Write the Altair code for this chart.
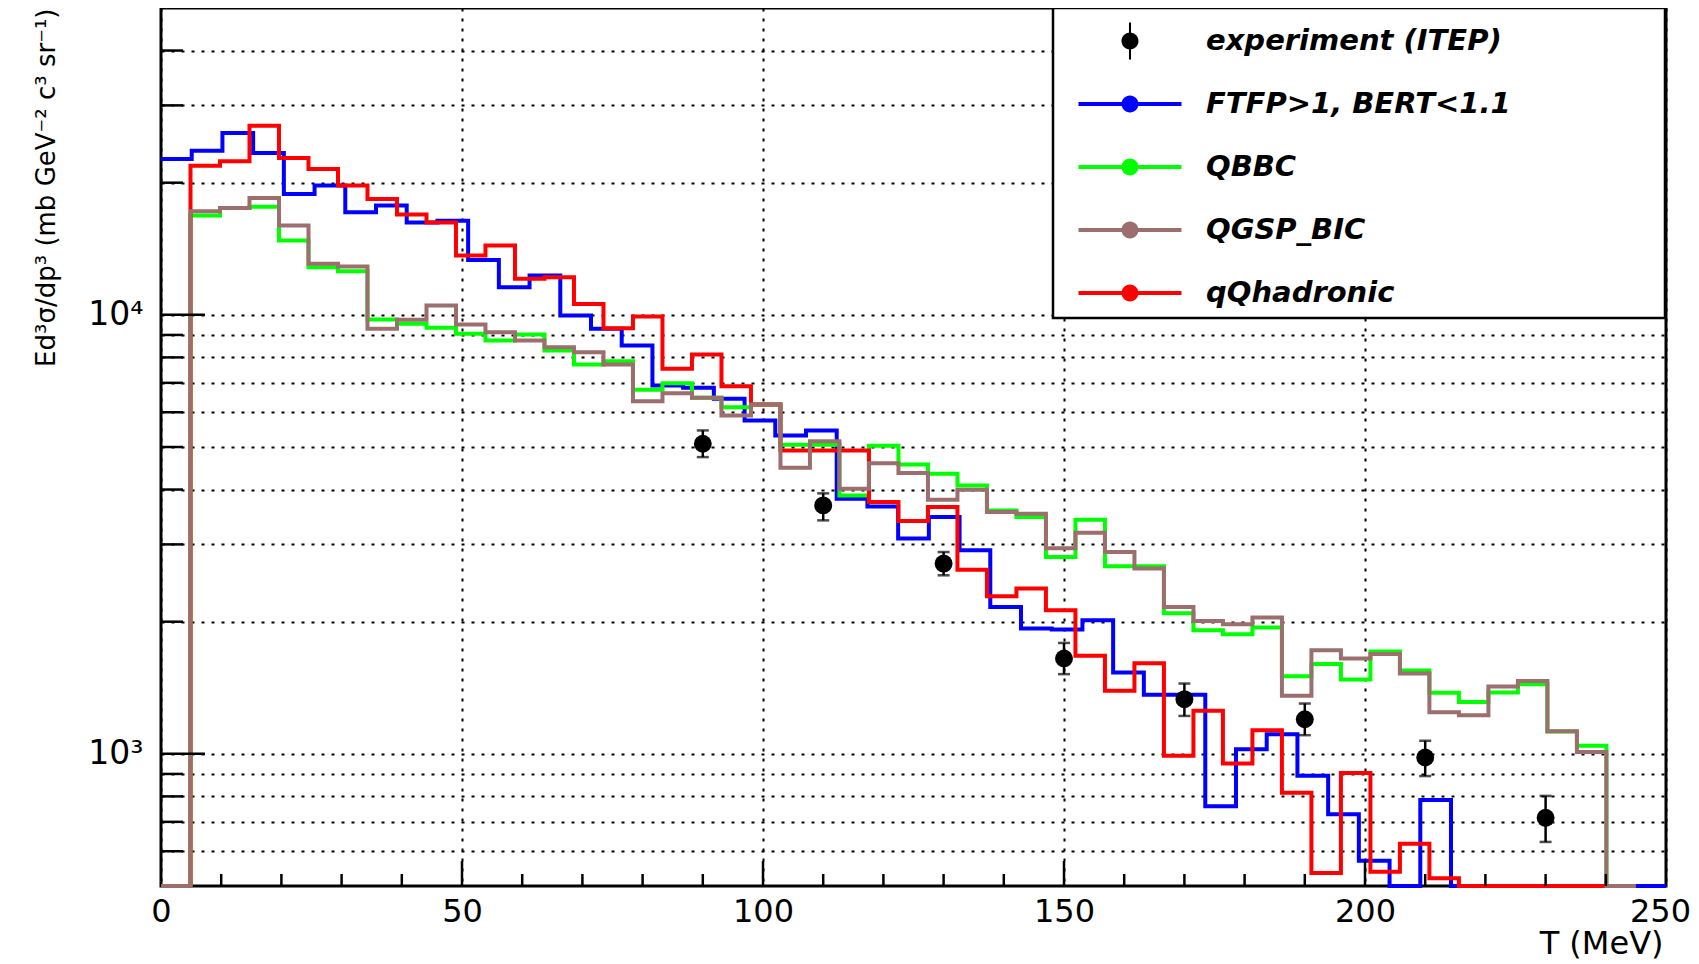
import altair as alt
import pandas as pd

# ---------------- data ----------------
# QBBC, QGSP_BIC, qQhadronic: 50 bins of 4.9 MeV (0 - 245 MeV)
rgb_bin_width = 4.9
# FTFP>1, BERT<1.1: 49 bins (0 - 250 MeV)
ftfp_bin_width = 250 / 49

ftfp = [22650, 23660, 25950, 23380, 18860, 19700, 17120, 17740, 16240, 16390,
        13340, 11560, 12290, 9964, 9292, 8514, 6902, 6822, 6438, 5745,
        5313, 5454, 3813, 3662, 3093, 3462, 2908, 2160, 1929, 1919,
        2015, 1533, 1363, 1363, 760, 1024, 1108, 892, 728, 571,
        0, 785, 0, 0, 0, 0, 0, 0, 0]

qbbc = [0, 16830, 17520, 17640, 14760, 12830, 12570, 9757, 9539, 9341,
        9052, 8740, 9020, 8294, 7708, 7842, 6750, 6989, 6474, 6163,
        6251, 5059, 5059, 3879, 5030, 4564, 4346, 4088, 3585, 3462,
        2808, 3415, 2674, 2674, 2090, 1912, 1873, 1940, 1503, 1603,
        1477, 1710, 1548, 1378, 1313, 1379, 1440, 1125, 1044, 0]

qgsp_bic = [0, 17210, 17520, 18460, 15970, 13070, 12880, 9292, 9741, 10500,
            9504, 9128, 8739, 8439, 8220, 7708, 6359, 6632, 6474, 5898,
            6251, 4485, 5156, 4018, 4590, 4360, 3793, 3997, 3554, 3525,
            2940, 3190, 2882, 2642, 2160, 2007, 1973, 2044, 1357, 1722,
            1649, 1689, 1524, 1244, 1225, 1423, 1466, 1126, 1010, 0]

qqhadronic = [0, 21870, 22370, 26960, 22770, 21490, 19700, 18360, 16920, 16240,
              13650, 14380, 12080, 12180, 10590, 9322, 9911, 7536, 8122, 6878,
              6252, 4909, 4909, 4909, 3746, 3390, 3649, 2628, 2285, 2379,
              2123, 1672, 1393, 1608, 990, 1254, 951, 1132, 815, 535,
              905, 539, 624, 521, 0, 0, 0, 0, 0, 0]

exp_T = [90, 110, 130, 150, 170, 190, 210, 230]
exp_val = [5085, 3681, 2713, 1649, 1332, 1199, 981, 715]
exp_lo = [4742, 3403, 2551, 1519, 1220, 1103, 890, 630]
exp_hi = [5454, 3921, 2882, 1789, 1446, 1302, 1071, 802]

series_names = ["FTFP>1, BERT<1.1", "QBBC", "QGSP_BIC", "qQhadronic"]
legend_names = ["experiment (ITEP)"] + series_names
legend_colors = ["#000000", "#0000ff", "#00ff00", "#9c6e6e", "#ff0000"]

x_ticks_major = [0, 50, 100, 150, 200, 250]
x_ticks_minor = [10, 20, 30, 40, 60, 70, 80, 90, 110, 120, 130, 140,
                 160, 170, 180, 190, 210, 220, 230, 240]
y_ticks_major = [1000, 10000]
y_ticks_minor = [600, 700, 800, 900, 2000, 3000, 4000, 5000, 6000, 7000,
                 8000, 9000, 20000, 30000, 40000]
y_min, y_max = 500, 50000

# ---------------- tables ----------------
def step_table(name, vals, w):
    rows = []
    for i, v in enumerate(vals):
        rows.append({"series": name, "T": i * w, "v": v, "k": 2 * i})
        rows.append({"series": name, "T": (i + 1) * w, "v": v, "k": 2 * i + 1})
    return rows

rows = []
rows += step_table(series_names[0], ftfp, ftfp_bin_width)
rows += step_table(series_names[1], qbbc, rgb_bin_width)
rows += step_table(series_names[2], qgsp_bic, rgb_bin_width)
rows += step_table(series_names[3], qqhadronic, rgb_bin_width)
hist_df = pd.DataFrame(rows)

exp_df = pd.DataFrame({"T": exp_T, "vd": exp_val, "lo": exp_lo, "hi": exp_hi})

# ---------------- scales / axes ----------------
W, H = 1505, 878
FONT = "DejaVu Sans"

xscale = alt.Scale(domain=[0, 250], nice=False, zero=False)
yscale = alt.Scale(type="log", domain=[y_min, y_max], nice=False)

xaxis = alt.Axis(values=x_ticks_major, format="d", title="T (MeV)",
                 grid=True, gridDash=[3, 7], gridColor="black", gridWidth=2,
                 gridOpacity=1, ticks=False, domain=False,
                 labelFont=FONT, labelFontSize=32, labelColor="black",
                 labelPadding=10, labelFlush=False, labelOverlap=False,
                 labelOffset={"condition": {"test": "datum.value == 250", "value": -6},
                              "value": 0},
                 titleFont=FONT, titleFontSize=32, titleFontWeight="normal",
                 titleColor="black", titleAlign="right", titleBaseline="alphabetic",
                 titleX=1502, titleY=67)

yaxis = alt.Axis(values=sorted(y_ticks_minor + y_ticks_major),
                 labelExpr="datum.value == 1000 ? '10³' : (datum.value == 10000 ? '10⁴' : '')",
                 grid=True, gridDash=[3, 7], gridColor="black", gridWidth=2,
                 gridOpacity=1, ticks=False, domain=False,
                 labelFont=FONT, labelFontSize=33, labelColor="black",
                 labelPadding=18, labelOverlap=False, labelFlush=False,
                 title="Ed³σ/dp³ (mb GeV⁻² c³ sr⁻¹)",
                 titleFont=FONT, titleFontSize=26, titleFontWeight="normal",
                 titleColor="black", titleAngle=270, titleAlign="right",
                 titleBaseline="alphabetic", titleX=-107, titleY=0)

def X(field):
    return alt.X(field, type="quantitative", scale=xscale, axis=xaxis)

def Y(field):
    return alt.Y(field, type="quantitative", scale=yscale, axis=yaxis)

base = alt.Chart(hist_df).transform_calculate(vd="max(datum.v, 500)")

def hist_layer(name, color):
    return base.transform_filter(alt.datum.series == name).mark_line(
        color=color, strokeWidth=4, strokeJoin="miter", strokeCap="butt"
    ).encode(x=X("T"), y=Y("vd"), order=alt.Order("k:Q"))

# legend frame (white box)
frame = alt.Chart(pd.DataFrame({"a": [0]})).mark_rect(
    fill="white", stroke="black", strokeWidth=2.5
).encode(x=alt.value(892), x2=alt.value(1504), y=alt.value(0), y2=alt.value(310))

lines = [hist_layer(series_names[0], legend_colors[1]),
         hist_layer(series_names[1], legend_colors[2]),
         hist_layer(series_names[3], legend_colors[4]),
         hist_layer(series_names[2], legend_colors[3])]

# inward ROOT-style ticks
yt_major = alt.Chart(pd.DataFrame({"vd": y_ticks_major})).mark_rule(
    color="black", strokeWidth=2.5).encode(y=Y("vd"), x=alt.value(0), x2=alt.value(44))
yt_minor = alt.Chart(pd.DataFrame({"vd": y_ticks_minor})).mark_rule(
    color="black", strokeWidth=2.5).encode(y=Y("vd"), x=alt.value(0), x2=alt.value(22))
xt_major = alt.Chart(pd.DataFrame({"T": x_ticks_major[1:-1]})).mark_rule(
    color="black", strokeWidth=2.5).encode(x=X("T"), y=alt.value(H), y2=alt.value(H - 25))
xt_minor = alt.Chart(pd.DataFrame({"T": x_ticks_minor})).mark_rule(
    color="black", strokeWidth=2.5).encode(x=X("T"), y=alt.value(H), y2=alt.value(H - 12))

# experiment
err = alt.Chart(exp_df).mark_errorbar(ticks=True, size=12, thickness=2.5, color="black").encode(
    x=X("T"), y=Y("lo"), y2="hi")
pts = alt.Chart(exp_df).mark_point(filled=True, size=320, color="black", opacity=1).encode(
    x=X("T"), y=Y("vd"))

# legend (entries are hidden off-scale points; only the legend shows)
pad_box = "M0,-1L0,-1M0,1L0,1 "
line_sym = pad_box + "M-2,-0.08H2V0.08H-2Z M0.33,0A0.33,0.33,0,1,1,-0.33,0A0.33,0.33,0,1,1,0.33,0Z"
exp_sym = pad_box + "M-0.04,-0.72H0.04V0.72H-0.04Z M0.33,0A0.33,0.33,0,1,1,-0.33,0A0.33,0.33,0,1,1,0.33,0Z"
legend_df = pd.DataFrame({"entry": legend_names, "T": [-50] * 5, "vd": [1000] * 5})
leg = alt.Legend(orient="none", legendX=943, legendY=7, padding=0, rowPadding=11,
                 labelOffset=50, title=None, labelFont=FONT, labelFontSize=29,
                 labelFontStyle="italic", labelFontWeight="bold", labelColor="black",
                 labelLimit=800, symbolSize=2652, symbolStrokeWidth=0)
legend_layer = alt.Chart(legend_df).mark_point(filled=True, clip=True, opacity=1).encode(
    x=X("T"), y=Y("vd"),
    color=alt.Color("entry:N", scale=alt.Scale(domain=legend_names, range=legend_colors), legend=leg),
    shape=alt.Shape("entry:N", scale=alt.Scale(domain=legend_names,
                                               range=[exp_sym] + [line_sym] * 4), legend=leg),
)

chart = alt.layer(
    frame, *lines, yt_major, yt_minor, xt_major, xt_minor, err, pts, legend_layer
).properties(
    width=W, height=H,
    autosize=alt.AutoSizeParams(type="none"),
    padding={"left": 153, "top": 0, "right": 25, "bottom": 78},
    background="white",
).configure_view(stroke="black", strokeWidth=3)

chart.save("out.html", embed_options={"renderer": "svg", "actions": False})
